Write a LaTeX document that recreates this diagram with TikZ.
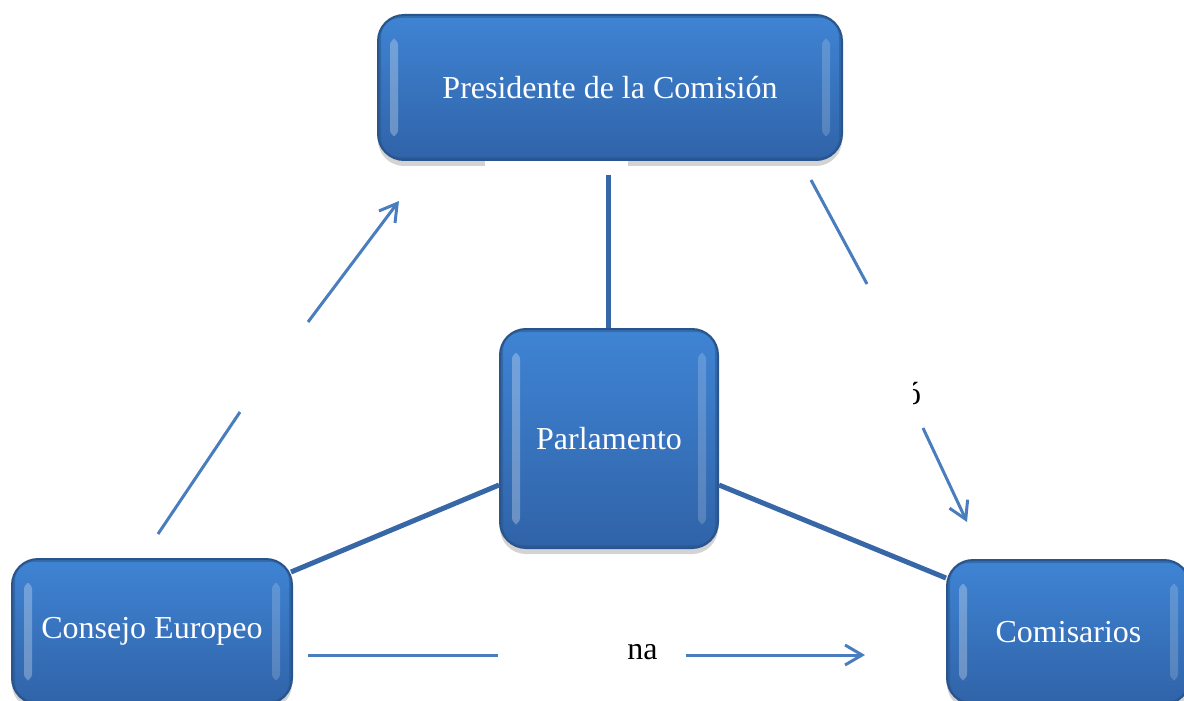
\documentclass[tikz,border=0pt]{standalone}
\usepackage{fontspec}
\setmainfont{Liberation Serif}
\usetikzlibrary{arrows.meta,fit,shadows}
\definecolor{boxtop}{HTML}{3F84D4}
\definecolor{boxbot}{HTML}{3063A8}
\definecolor{boxedge}{HTML}{29558C}
\definecolor{conn}{HTML}{3767A6}
\definecolor{arr}{HTML}{4A7DBD}
\tikzset{
  glossy/.style={rounded corners=13pt, draw=boxedge, line width=1pt,
    top color=boxtop, bottom color=boxbot,
    drop shadow={shadow xshift=0pt, shadow yshift=-3pt, opacity=0.35},
    inner sep=0pt,
    label={[text=white, font=\fontsize{16}{19}\selectfont]center:#1},
    path picture={
      \fill[white,opacity=0.28,rounded corners=3pt]
        ([xshift=6pt,yshift=-12pt]path picture bounding box.north west) rectangle
        ([xshift=10pt,yshift=12pt]path picture bounding box.south west);
      \fill[white,opacity=0.18,rounded corners=3pt]
        ([xshift=-6pt,yshift=-12pt]path picture bounding box.north east) rectangle
        ([xshift=-10pt,yshift=12pt]path picture bounding box.south east);
      \draw[boxedge,opacity=0.5,line width=3pt,rounded corners=11pt]
        (path picture bounding box.north west) rectangle (path picture bounding box.south east);
    }},
  link/.style={conn, line width=2.5pt},
  flow/.style={arr, line width=1.5pt},
  flowtip/.style={flow, -{Straight Barb[length=8.5pt, width=10pt]}},
  lbl/.style={font=\fontsize{16}{19}\selectfont, inner sep=0pt},
}
\begin{document}
\begin{tikzpicture}[x=0.5pt,y=-0.5pt]
\useasboundingbox (0,0) rectangle (1184,701);

% boxes
\node[glossy={Presidente de la Comisión}, fit={(378,15)(842,160)}] (pres) {};
\fill[white] (485,161) rectangle (628,168);
\node[glossy={Parlamento}, fit={(500,329)(718,548)}] (parl) {};
\node[glossy={Consejo Europeo}, fit={(12,559)(292,704)}] (cons) {};
\node[glossy={Comisarios}, fit={(947,560)(1190,704)}] (comi) {};

% thick connectors
\coordinate (pv1) at (608,175);
\draw[link] (pv1) -- (parl.north -| pv1);
\draw[link] (cons.north east) ++(-2,14) coordinate (cl) (cl) -- (parl.west |- 0,485);
\draw[link] (parl.east |- 0,485) -- (comi.west |- 0,578);

% arrow Consejo -> Presidente (interrupted)
\coordinate (a1) at (158,534);
\coordinate (a2) at (240,412);
\coordinate (a3) at (308,322);
\coordinate (a4) at (399,201);
\draw[flow] (a1) -- (a2);
\draw[flowtip] (a3) -- (a4);

% arrow Presidente -> Comisarios (interrupted)
\coordinate (b1) at (811,180);
\coordinate (b2) at (867,284);
\coordinate (b3) at (923,428);
\coordinate (b4) at (967,522);
\draw[flow] (b1) -- (b2);
\draw[flowtip] (b3) -- (b4);

% arrow Consejo -> Comisarios (interrupted)
\coordinate (c1) at (308,655);
\coordinate (c2) at (498,655);
\coordinate (c3) at (686,655);
\coordinate (c4) at (865,655);
\draw[flow] (c1) -- (c2);
\draw[flowtip] (c3) -- (c4);

% visible label fragments
\node[lbl, anchor=base west] (na) at (627,659) {na};
\begin{scope}
  \clip (913,370) rectangle (940,415);
  \node[lbl, anchor=base] (frag) at (913,404) {ó};
\end{scope}
\end{tikzpicture}
\end{document}
